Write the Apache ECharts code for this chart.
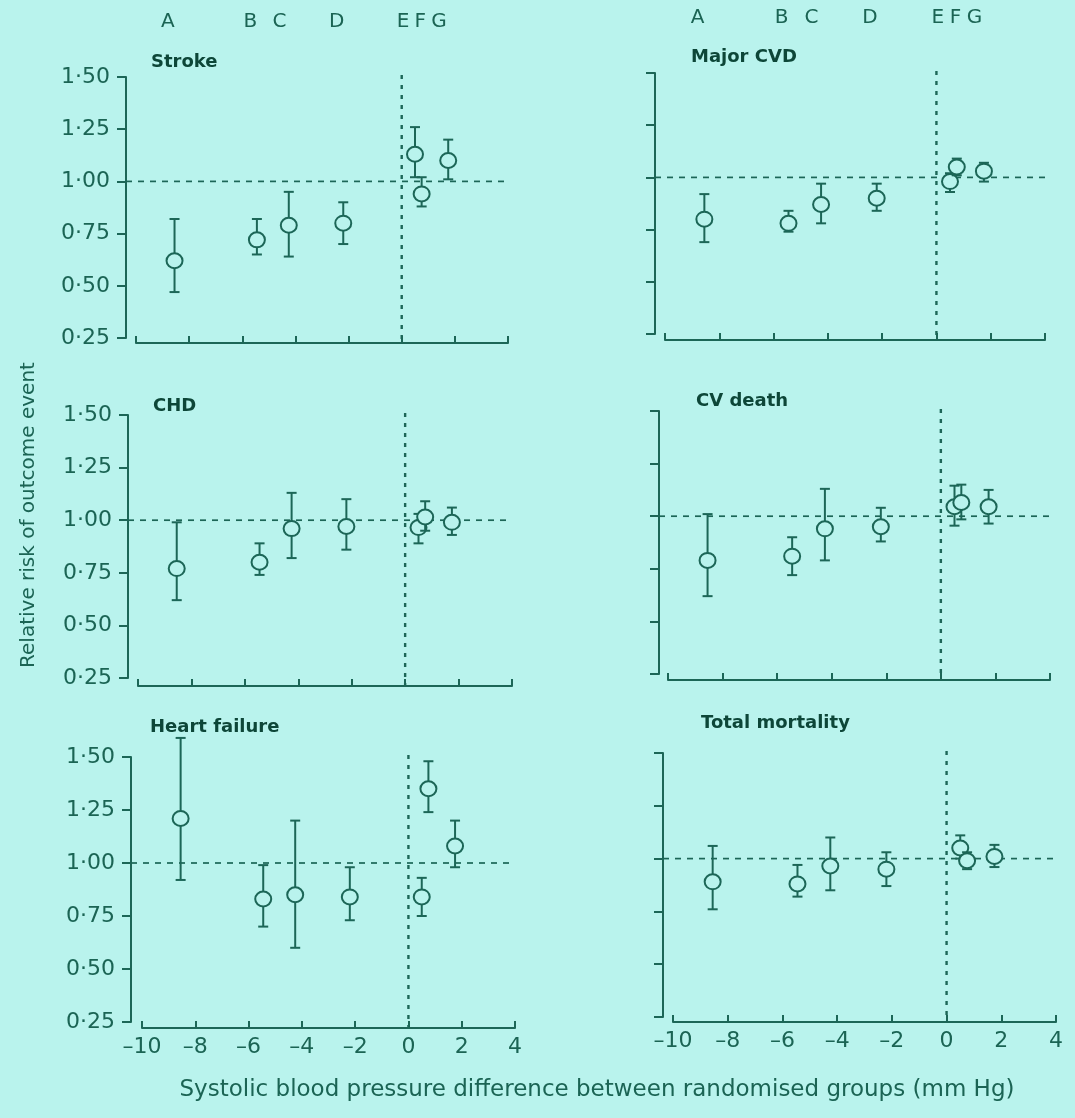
<!DOCTYPE html>
<html><head><meta charset="utf-8">
<script src="https://cdn.jsdelivr.net/npm/echarts@6/dist/echarts.min.js"></script>
<style>html,body{margin:0;padding:0;background:#b9f3ed;}#c{width:1075px;height:1118px;}</style>
</head><body><div id="c"></div>
<script>
// ---- data ----
const trials = ['A','B','C','D','E','F','G'];
const bpDiff = [-8.55, -5.45, -4.25, -2.2, 0.5, 0.75, 1.75];       // SBP difference (mm Hg)
const letterPos = [-8.8, -5.7, -4.6, -2.45, 0.05, 0.7, 1.4];        // where trial letters are printed
const panelTitles = ['Stroke','Major CVD','CHD','CV death','Heart failure','Total mortality'];
const xTicks = [-10,-8,-6,-4,-2,0,2,4];
const yTicks = [0.25,0.50,0.75,1.00,1.25,1.50];

const strokeRR = [0.62, 0.72, 0.79, 0.80, 1.13, 0.94, 1.10];
const strokeLo = [0.47, 0.65, 0.64, 0.70, 1.02, 0.88, 1.01];
const strokeHi = [0.82, 0.82, 0.95, 0.90, 1.26, 1.02, 1.20];

const cvdRR = [0.80, 0.78, 0.87, 0.90, 0.98, 1.05, 1.03];
const cvdLo = [0.69, 0.74, 0.78, 0.84, 0.93, 1.01, 0.98];
const cvdHi = [0.92, 0.84, 0.97, 0.97, 1.02, 1.09, 1.07];

const chdRR = [0.77, 0.80, 0.96, 0.97, 0.965, 1.015, 0.99];
const chdLo = [0.62, 0.74, 0.82, 0.86, 0.89, 0.95, 0.93];
const chdHi = [0.99, 0.89, 1.13, 1.10, 1.03, 1.09, 1.06];

const cvDeathRR = [0.79, 0.81, 0.94, 0.95, 1.045, 1.065, 1.045];
const cvDeathLo = [0.62, 0.72, 0.79, 0.88, 0.955, 0.985, 0.965];
const cvDeathHi = [1.01, 0.90, 1.13, 1.04, 1.145, 1.15, 1.125];

const hfRR = [1.21, 0.83, 0.85, 0.84, 0.84, 1.35, 1.08];
const hfLo = [0.92, 0.70, 0.60, 0.73, 0.75, 1.24, 0.98];
const hfHi = [1.59, 0.99, 1.20, 0.98, 0.93, 1.48, 1.20];

const mortRR = [0.89, 0.88, 0.965, 0.95, 1.05, 0.99, 1.01];
const mortLo = [0.76, 0.82, 0.85, 0.87, 1.00, 0.95, 0.96];
const mortHi = [1.06, 0.97, 1.10, 1.03, 1.11, 1.03, 1.065];

// ---- style / layout ----
const BG = '#b9f3ed', LINE = '#1c6657', TXT = '#1b6454', TITLE = '#0d4638';
const FONT = 'DejaVu Sans';
const layout = [
  {xl:136, xr:508, yt:77,  yb:338, yGap:10, xGap:5, tx:151, ty:62,  ly:22},
  {xl:665, xr:1045,yt:73,  yb:334, yGap:10, xGap:6, tx:691, ty:57,  ly:18},
  {xl:138, xr:512, yt:415, yb:678, yGap:10, xGap:8, tx:153, ty:406},
  {xl:668, xr:1050,yt:411, yb:674, yGap:9,  xGap:6, tx:696, ty:401},
  {xl:142, xr:515, yt:757, yb:1022,yGap:11, xGap:6, tx:150, ty:727},
  {xl:673, xr:1056,yt:753, yb:1017,yGap:10, xGap:5, tx:701, ty:723}
];
const series6 = [
  [strokeRR, strokeLo, strokeHi], [cvdRR, cvdLo, cvdHi],
  [chdRR, chdLo, chdHi], [cvDeathRR, cvDeathLo, cvDeathHi],
  [hfRR, hfLo, hfHi], [mortRR, mortLo, mortHi]
];

const fmtY = v => v.toFixed(2).replace('.', '\u00b7');
const fmtX = v => v < 0 ? '\u2013' + (-v) : String(v);

const grid = [], xAxis = [], yAxis = [], series = [];
layout.forEach((L, i) => {
  const left = i % 2 === 0, bottom = i >= 4;
  grid.push({left: L.xl, top: L.yt, width: L.xr - L.xl, height: L.yb - L.yt,
             containLabel: false, outerBoundsMode: 'none'});
  xAxis.push({gridIndex: i, type: 'value', min: xTicks[0], max: xTicks[xTicks.length-1], interval: 2,
    offset: L.xGap,
    axisLine: {show: true, onZero: false, lineStyle: {color: LINE, width: 2}},
    axisTick: {show: true, inside: true, length: 7, lineStyle: {color: LINE, width: 2}},
    axisLabel: {show: bottom, color: TXT, fontFamily: FONT, fontSize: 22, margin: 8, formatter: fmtX},
    splitLine: {show: false}});
  yAxis.push({gridIndex: i, type: 'value', min: yTicks[0], max: yTicks[yTicks.length-1], interval: 0.25,
    offset: L.yGap,
    axisLine: {show: true, onZero: false, lineStyle: {color: LINE, width: 2}},
    axisTick: {show: true, inside: false, length: 9, lineStyle: {color: LINE, width: 2}},
    axisLabel: {show: left, color: TXT, fontFamily: FONT, fontSize: 22, margin: 16, formatter: fmtY},
    splitLine: {show: false}});

  // reference lines (RR = 1 and SBP difference = 0)
  series.push({type: 'custom', xAxisIndex: i, yAxisIndex: i, silent: true, z: 1,
    data: [[0, 1]],
    renderItem: (params, api) => {
      const a = api.coord([xTicks[0], api.value(1)]);
      const b = api.coord([xTicks[xTicks.length-1], api.value(1)]);
      const t = api.coord([api.value(0), yTicks[yTicks.length-1]]);
      const u = api.coord([api.value(0), yTicks[0]]);
      return {type: 'group', children: [
        {type: 'line', shape: {x1: a[0] - L.yGap, y1: a[1], x2: b[0], y2: b[1]},
         style: {stroke: LINE, lineWidth: 1.7, lineDash: [6, 6]}},
        {type: 'line', shape: {x1: t[0], y1: t[1] - 2, x2: u[0], y2: u[1] + L.xGap},
         style: {stroke: LINE, lineWidth: 2.4, lineDash: [4, 6]}}
      ]};
    }});

  const [rr, lo, hi] = series6[i];
  series.push({type: 'custom', xAxisIndex: i, yAxisIndex: i, silent: true, z: 3, clip: false,
    data: trials.map((t, k) => [bpDiff[k], lo[k], hi[k], rr[k]]),
    renderItem: (params, api) => {
      const x = api.value(0);
      const pl = api.coord([x, api.value(1)]);
      const ph = api.coord([x, api.value(2)]);
      const pm = api.coord([x, api.value(3)]);
      const st = {stroke: LINE, lineWidth: 2, fill: null};
      const cap = 5;
      return {type: 'group', children: [
        {type: 'line', shape: {x1: pl[0], y1: pl[1], x2: ph[0], y2: ph[1]}, style: st},
        {type: 'line', shape: {x1: pl[0]-cap, y1: pl[1], x2: pl[0]+cap, y2: pl[1]}, style: st},
        {type: 'line', shape: {x1: ph[0]-cap, y1: ph[1], x2: ph[0]+cap, y2: ph[1]}, style: st},
        {type: 'ellipse', shape: {cx: pm[0], cy: pm[1], rx: 8, ry: 7.5},
         style: {fill: BG, stroke: LINE, lineWidth: 2}}
      ]};
    }});
});

const chart = echarts.init(document.getElementById('c'), null, {renderer: 'canvas'});
chart.setOption({backgroundColor: BG, animation: false, grid, xAxis, yAxis, series});

// ---- text annotations ----
const graphic = [];
layout.forEach((L, i) => {
  graphic.push({type: 'text', x: L.tx, y: L.ty, silent: true,
    style: {text: panelTitles[i], fill: TITLE, font: 'bold 18px "DejaVu Sans"', align: 'left', verticalAlign: 'middle'}});
  if (i < 2) {
    trials.forEach((t, k) => {
      const px = chart.convertToPixel({xAxisIndex: i}, letterPos[k]);
      graphic.push({type: 'text', x: px, y: L.ly, silent: true,
        style: {text: t, fill: TXT, font: '20px "DejaVu Sans"', align: 'center', verticalAlign: 'middle'}});
    });
  }
});
graphic.push({type: 'text', x: 29, y: 515, rotation: Math.PI / 2, silent: true,
  style: {text: 'Relative risk of outcome event', fill: TXT, font: '20px "DejaVu Sans"', align: 'center', verticalAlign: 'middle'}});
graphic.push({type: 'text', x: 597, y: 1090, silent: true,
  style: {text: 'Systolic blood pressure difference between randomised groups (mm Hg)', fill: TXT, font: '23px "DejaVu Sans"', align: 'center', verticalAlign: 'middle'}});
chart.setOption({graphic});
</script></body></html>
